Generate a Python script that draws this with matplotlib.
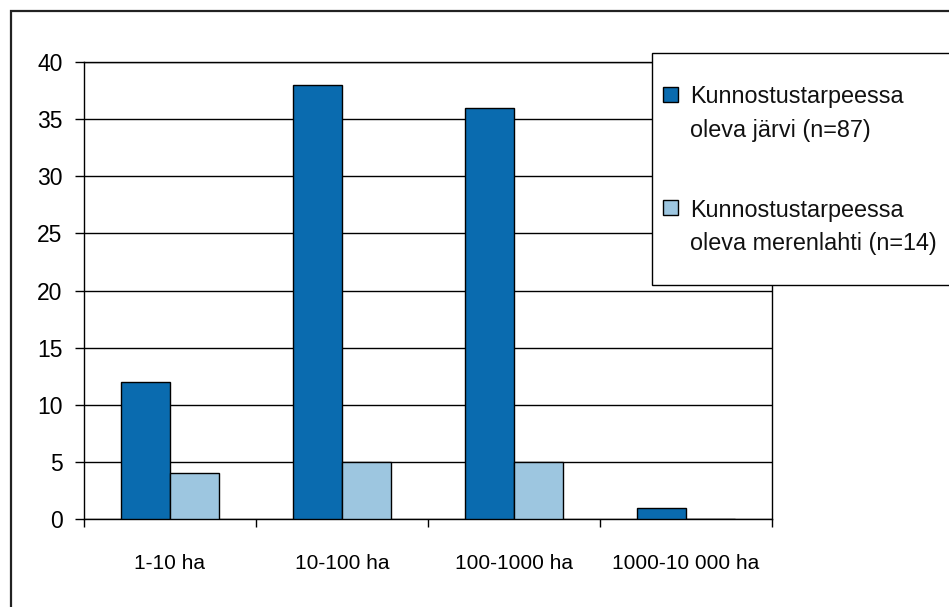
import matplotlib.pyplot as plt
import numpy as np
from matplotlib.patches import Rectangle

# Datos
categorias = ["1-10 ha", "10-100 ha", "100-1000 ha", "1000-10 000 ha"]
jarvi = [12, 38, 36, 1]
merenlahti = [4, 5, 5, 0]
etiquetas = ["Kunnostustarpeessa\noleva järvi (n=87)",
             "Kunnostustarpeessa\noleva merenlahti (n=14)"]
y_ticks = [0, 5, 10, 15, 20, 25, 30, 35, 40]

c_oscuro = "#0A6BAF"
c_claro = "#9DC6E0"

W, H = 949, 607
plt.rcParams['font.family'] = ['Liberation Sans', 'DejaVu Sans']

fig = plt.figure(figsize=(W / 100, H / 100), dpi=100)


def px(x, y):
    return x / W, 1 - y / H


# Marco exterior
fig.patches.append(Rectangle(px(11, 1000), (1000) / W, (1000 - 11) / H,
                             transform=fig.transFigure, fill=False,
                             edgecolor="#222222", linewidth=1.6, zorder=0))

# Area del grafico
ax = fig.add_axes([84 / W, 1 - 519 / H, (772 - 84) / W, (519 - 62) / H])
x = np.arange(len(categorias))
ancho = 1 / 3.5
ax.bar(x - ancho / 2, jarvi, ancho, color=c_oscuro, edgecolor="black", linewidth=1, zorder=3)
ax.bar(x + ancho / 2, merenlahti, ancho, color=c_claro, edgecolor="black", linewidth=1, zorder=3)

ax.set_xlim(-0.5, len(categorias) - 0.5)
ax.set_ylim(0, 40)
ax.set_yticks(y_ticks)
ax.yaxis.grid(True, color="black", linewidth=1, zorder=0)
ax.set_axisbelow(True)
ax.set_xticks(x)
ax.set_xticklabels(categorias, fontsize=15)
ax.set_xticks(np.arange(len(categorias) + 1) - 0.5, minor=True)
ax.tick_params(axis='x', which='major', length=0, pad=25)
ax.tick_params(axis='x', which='minor', length=6, width=1, direction='out')
ax.tick_params(axis='y', length=6.5, width=1, pad=9, labelsize=16.5)
for s in ax.spines.values():
    s.set_linewidth(1)
    s.set_color("black")

# Leyenda
fig.patches.append(Rectangle(px(652, 285), (1000 - 652) / W, (285 - 53) / H,
                             transform=fig.transFigure, facecolor="white",
                             edgecolor="black", linewidth=1, zorder=5))
for col, lab, ysq, ybase in [(c_oscuro, etiquetas[0], 87.5, 103),
                             (c_claro, etiquetas[1], 200.5, 216.5)]:
    fig.patches.append(Rectangle(px(663, ysq + 14.5), 14.5 / W, 14.5 / H,
                                 transform=fig.transFigure, facecolor=col,
                                 edgecolor="black", linewidth=1, zorder=6))
    for i, linea in enumerate(lab.split("\n")):
        fig.text(*px(690, ybase + i * 33.5), linea, fontsize=16.8,
                 va="baseline", ha="left", color="#111111", zorder=7)

fig.savefig("out.png", dpi=100)
